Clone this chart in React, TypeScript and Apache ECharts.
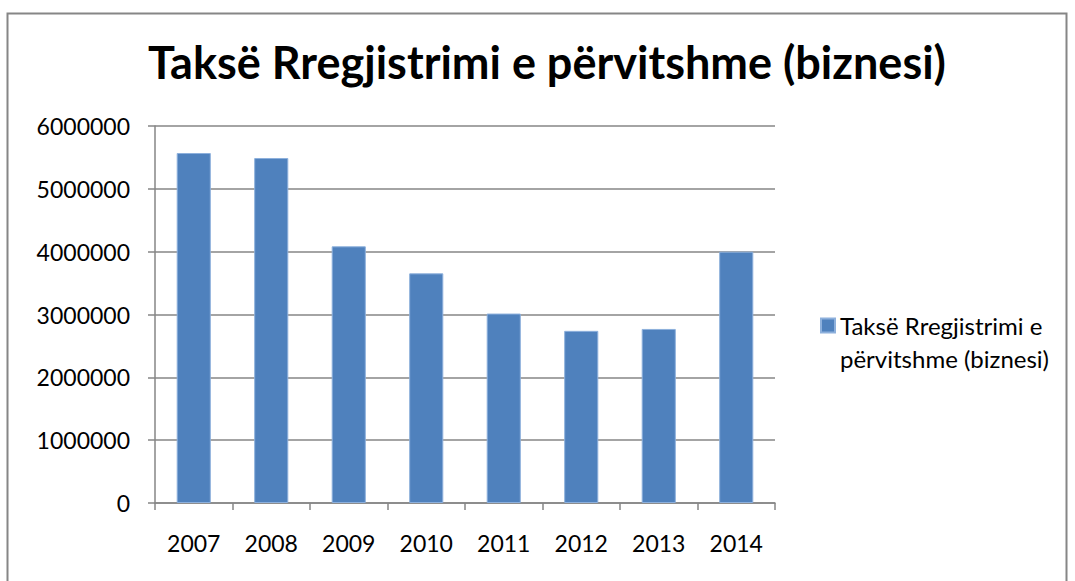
import React, { useEffect, useRef } from "react";
import * as echarts from "echarts";

const categories = ["2007", "2008", "2009", "2010", "2011", "2012", "2013", "2014"];
const values = [5570000, 5490000, 4085000, 3655000, 3015000, 2740000, 2770000, 4000000];
const seriesName = "Taksë Rregjistrimi e përvitshme (biznesi)";
const legendLabel = "\nTaksë Rregjistrimi e\npërvitshme (biznesi)";
const titleText = "Taksë Rregjistrimi e përvitshme (biznesi)";
const yTicks = { min: 0, max: 6000000, interval: 1000000 };

const FONT = "Lato, 'Open Sans', sans-serif";
const GRAY = "#868686";

export default function App() {
  const ref = useRef<HTMLDivElement>(null);
  useEffect(() => {
    if (!ref.current) return;
    const chart = echarts.init(ref.current, null, { renderer: "svg" });
    chart.setOption({
      animation: false,
      backgroundColor: "#ffffff",
      title: {
        text: titleText,
        left: 542,
        textAlign: "center",
        top: 34,
        textStyle: { fontFamily: FONT, fontWeight: "bold", fontSize: 45, color: "#000" },
      },
      graphic: [
        {
          type: "rect",
          shape: { x: 7.5, y: 13.5, width: 1059, height: 620 },
          style: { fill: "none", stroke: GRAY, lineWidth: 2 },
          silent: true,
        },
      ],
      legend: {
        show: true,
        left: 820,
        top: 276,
        padding: 0,
        orient: "vertical",
        itemWidth: 14,
        itemHeight: 14,
        icon: "rect",
        formatter: () => legendLabel,
        textStyle: { fontFamily: FONT, fontSize: 24, color: "#000", lineHeight: 33 },
        data: [seriesName],
      },
      grid: { left: 155, right: 300, top: 126, bottom: 78, containLabel: false },
      xAxis: {
        type: "category",
        data: categories,
        axisLine: { show: true, lineStyle: { color: GRAY, width: 1.5 } },
        axisTick: { show: true, alignWithLabel: false, length: 7, lineStyle: { color: GRAY, width: 1.5 } },
        axisLabel: { fontFamily: FONT, fontSize: 23, color: "#000", margin: 28 },
        splitLine: { show: false },
      },
      yAxis: {
        type: "value",
        min: yTicks.min,
        max: yTicks.max,
        interval: yTicks.interval,
        axisLine: { show: true, lineStyle: { color: GRAY, width: 1.5 } },
        axisTick: { show: true, length: 7, lineStyle: { color: GRAY, width: 1.5 } },
        axisLabel: { fontFamily: FONT, fontSize: 23, color: "#000", margin: 25, formatter: (v: number) => String(v) },
        splitLine: { show: true, lineStyle: { color: GRAY, width: 1.5 } },
      },
      series: [
        {
          name: seriesName,
          type: "bar",
          data: values,
          barCategoryGap: "56%",
          itemStyle: { color: "#4F81BD", borderColor: "#8DB0DC", borderWidth: 1 },
        },
      ],
    });
    return () => chart.dispose();
  }, []);
  return (
    <div
      ref={ref}
      style={{ position: "fixed", left: 0, top: 0, width: 1075, height: 581 }}
    />
  );
}
